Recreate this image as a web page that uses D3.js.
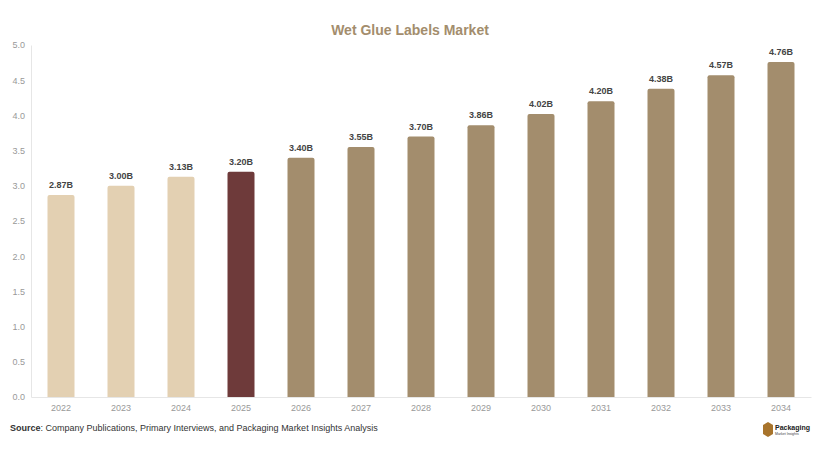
<!DOCTYPE html><html><head><script src="https://cdn.jsdelivr.net/npm/d3@7"></script>
<style>body{margin:0;background:#fff}text{font-family:Arial,"Liberation Sans",sans-serif}</style></head><body>
<svg id="c" width="820" height="454"></svg>
<script>
const years=["2022","2023","2024","2025","2026","2027","2028","2029","2030","2031","2032","2033","2034"];
const values=[2.87,3.00,3.13,3.20,3.40,3.55,3.70,3.86,4.02,4.20,4.38,4.57,4.76];
const labels=["2.87B","3.00B","3.13B","3.20B","3.40B","3.55B","3.70B","3.86B","4.02B","4.20B","4.38B","4.57B","4.76B"];
const yTicks=[0,0.5,1,1.5,2,2.5,3,3.5,4,4.5,5];
const svg=d3.select("#c");
const x=d3.scaleBand().domain(years).range([31,811]).paddingInner(0.55).paddingOuter(0.275);
const y=d3.scaleLinear().domain([0,5]).range([397,45]);
const col=i=>i<3?"#e3d0b2":i===3?"#6e3a3a":"#a38d6d";
svg.append("text").attr("x",410).attr("y",35).attr("text-anchor","middle").attr("font-size",14).attr("font-weight","bold").attr("fill","#a38d6d").text("Wet Glue Labels Market");
const ya=svg.append("g").attr("transform","translate(31,0)").call(d3.axisLeft(y).tickValues(yTicks).tickFormat(d3.format(".1f")).tickSize(0).tickPadding(6));
ya.select(".domain").attr("stroke","#e6e6e6");
ya.selectAll("text").attr("fill","#999").attr("font-size",9);
const xa=svg.append("g").attr("transform","translate(0,397)").call(d3.axisBottom(x).tickSize(0).tickPadding(8));
xa.select(".domain").attr("stroke","#e6e6e6");
xa.selectAll("text").attr("fill","#999").attr("font-size",9);
svg.selectAll("path.bar").data(values).enter().append("path").attr("fill",(d,i)=>col(i))
 .attr("d",(d,i)=>{const x0=x(years[i]),w=x.bandwidth(),t=y(d),b=y(0),r=2;
  return `M${x0},${b}V${t+r}Q${x0},${t} ${x0+r},${t}H${x0+w-r}Q${x0+w},${t} ${x0+w},${t+r}V${b}Z`;});
svg.selectAll("text.lab").data(values).enter().append("text").attr("x",(d,i)=>x(years[i])+x.bandwidth()/2).attr("y",d=>y(d)-7)
 .attr("text-anchor","middle").attr("font-size",9).attr("font-weight","bold").attr("fill","#444").text((d,i)=>labels[i]);
const s=svg.append("text").attr("x",10).attr("y",431).attr("font-size",9).attr("fill","#333");
s.append("tspan").attr("font-weight","bold").text("Source");
s.append("tspan").text(": Company Publications, Primary Interviews, and Packaging Market Insights Analysis");
svg.append("path").attr("d","M763,425 L768,422 L773,425 L773,434 L768,437 L763,434Z").attr("fill","#a8742c");
svg.append("text").attr("x",775).attr("y",430).attr("font-size",7).attr("font-weight","bold").attr("fill","#222").text("Packaging");
svg.append("text").attr("x",775).attr("y",435).attr("font-size",3.5).attr("fill","#444").text("Market Insights");
</script></body></html>
